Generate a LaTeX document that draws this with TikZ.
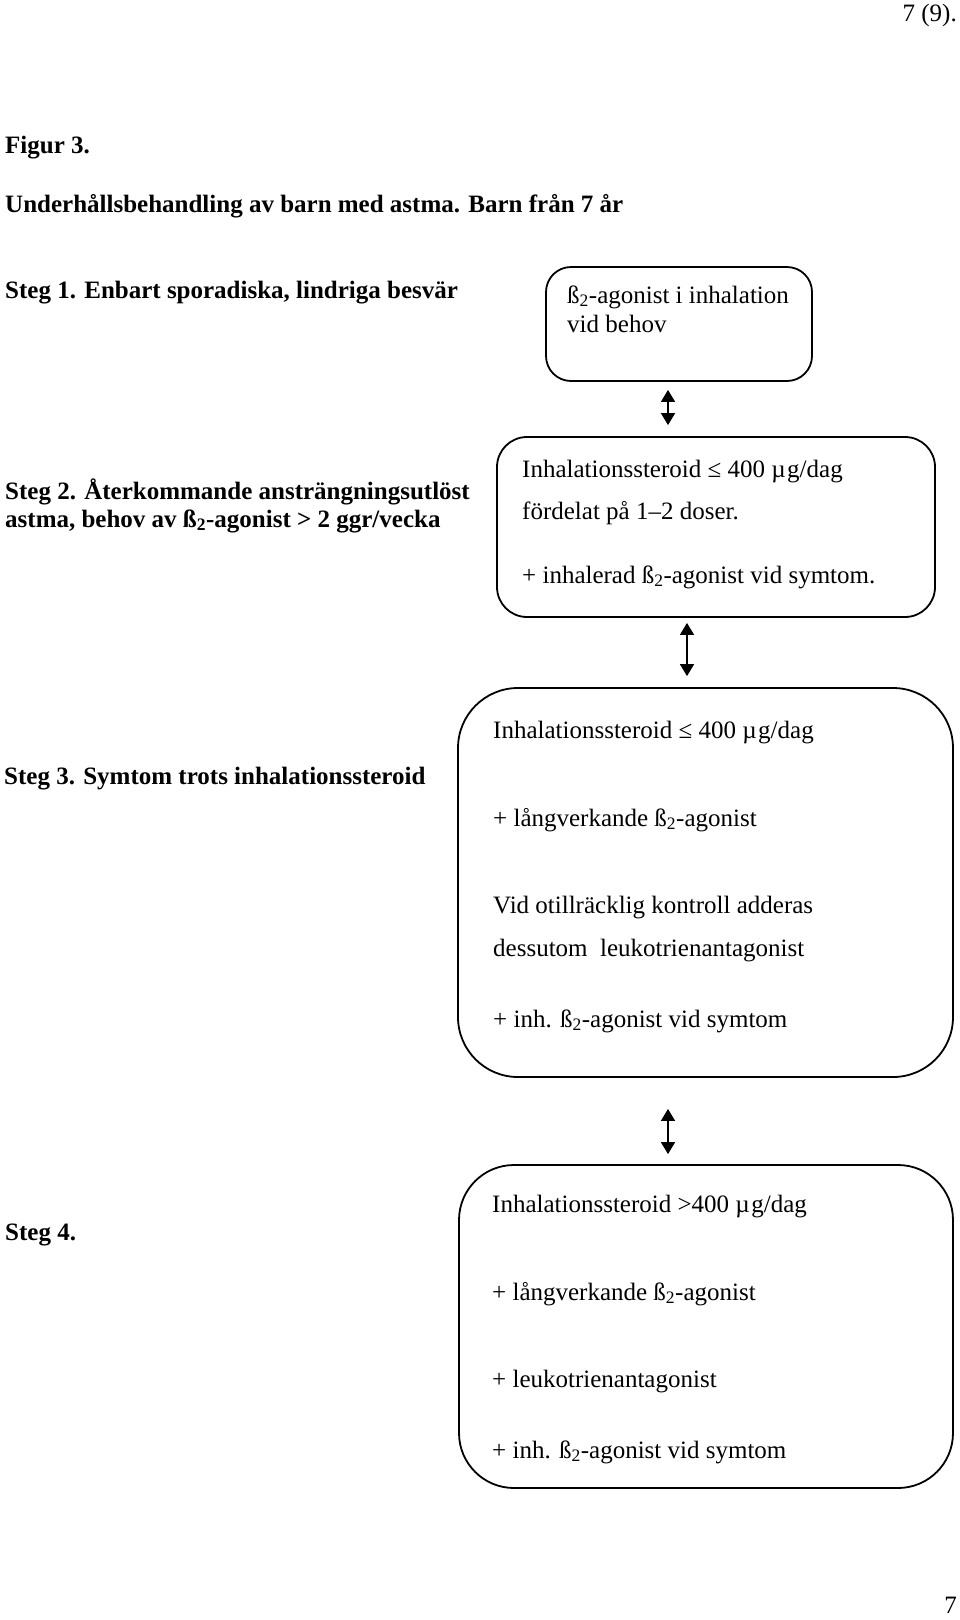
\documentclass[tikz,border=0pt]{standalone}
\usepackage{fontspec}
\setmainfont{Liberation Serif}
\usetikzlibrary{arrows.meta}
\newcommand{\bsub}{ß\textsubscript{2}}
\newcommand{\mug}{µ\kern1.5pt g}
\begin{document}
\begin{tikzpicture}[x=1pt,y=-1pt,
  txt/.style={anchor=base west,inner sep=0pt,font=\fontsize{25}{30}\selectfont},
  btxt/.style={txt,font=\fontsize{25}{30}\selectfont\bfseries},
  box/.style={draw,line width=1.8pt,rectangle,inner sep=0pt},
  biarrow/.style={line width=1.5pt,{Triangle[width=14pt,length=12pt]}-{Triangle[width=14pt,length=12pt]}}]
\useasboundingbox (0,0) rectangle (960,1620);
% header
\node[txt,anchor=base east] (pg) at (957,21) {7 (9).};
\node[btxt] (fig) at (5,153) {Figur 3.};
\node[btxt] (title) at (5,212) {Underhållsbehandling av barn med astma. Barn från 7 år};
% left labels
\node[btxt] (s1) at (5,298) {Steg 1. Enbart sporadiska, lindriga besvär};
\node[btxt] (s2a) at (5,499) {Steg 2. Återkommande ansträngningsutlöst};
\node[btxt] (s2b) at (5,527) {astma, behov av \bsub-agonist > 2 ggr/vecka};
\node[btxt] (s3) at (4,784) {Steg 3. Symtom trots inhalationssteroid};
\node[btxt] (s4) at (5,1240) {Steg 4.};
% boxes
\node[box,minimum width=266pt,minimum height=114pt,rounded corners=25pt] (b1) at (679,324) {};
\node[box,minimum width=438pt,minimum height=180pt,rounded corners=30pt] (b2) at (716,527) {};
\node[box,minimum width=495pt,minimum height=389pt,rounded corners=60pt] (b3) at (705.5,882.5) {};
\node[box,minimum width=494pt,minimum height=323pt,rounded corners=55pt] (b4) at (706,1326.5) {};
% box 1 text
\node[txt] (t11) at (567,303) {\bsub-agonist i inhalation};
\node[txt] (t12) at (567,332) {vid behov};
% box 2 text
\node[txt] (t21) at (522,477) {Inhalationssteroid ≤ 400 \mug/dag};
\node[txt] (t22) at (522,519) {fördelat på 1–2 doser.};
\node[txt] (t23) at (522,583) {+ inhalerad \bsub-agonist vid symtom.};
% box 3 text
\node[txt] (t31) at (493,738) {Inhalationssteroid ≤ 400 \mug/dag};
\node[txt] (t32) at (493,826) {+ långverkande \bsub-agonist};
\node[txt] (t33) at (493,913) {Vid otillräcklig kontroll adderas};
\node[txt] (t34) at (493,956) {dessutom\ \ leukotrienantagonist};
\node[txt] (t35) at (493,1027) {+ inh. \bsub-agonist vid symtom};
% box 4 text
\node[txt] (t41) at (492,1212) {Inhalationssteroid >400 \mug/dag};
\node[txt] (t42) at (492,1300) {+ långverkande \bsub-agonist};
\node[txt] (t43) at (492,1387) {+ leukotrienantagonist};
\node[txt] (t44) at (492,1458) {+ inh. \bsub-agonist vid symtom};
% footer
\node[txt,anchor=base east] (pgb) at (957,1613) {7};
% arrows
\draw[biarrow,shorten <=8pt,shorten >=11pt] (b1.south -| 668,0) -- (b2.north -| 668,0);
\draw[biarrow,shorten <=5pt,shorten >=11pt] (b2.south -| 687,0) -- (b3.north -| 687,0);
\draw[biarrow,shorten <=31pt,shorten >=10pt] (b3.south -| 668,0) -- (b4.north -| 668,0);
\end{tikzpicture}
\end{document}
